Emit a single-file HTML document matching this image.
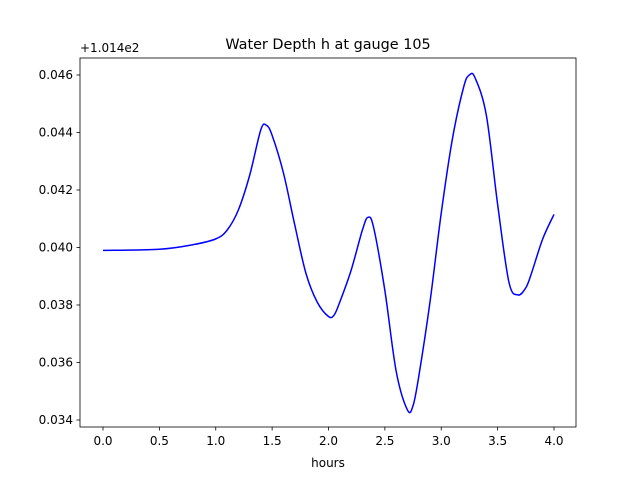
<!DOCTYPE html>
<html><head><meta charset="utf-8"><style>
body{margin:0;background:#fff;}
svg text{font-family:"DejaVu Sans","Liberation Sans",sans-serif;font-size:12px;fill:#000;}
</style></head><body>
<svg id="chart" width="640" height="480" xmlns="http://www.w3.org/2000/svg">
<rect x="0" y="0" width="640" height="480" fill="#fff"/>
<text x="328" y="49" text-anchor="middle" style="font-size:14.4px">Water Depth h at gauge 105</text>
<text x="80" y="52">+1.014e2</text>
<g id="ticks"></g>
<path id="line" fill="none" stroke="#0000ff" stroke-width="1.5"/>
<rect x="80" y="58" width="496" height="369" fill="none" stroke="#000" stroke-width="0.8"/>
<text x="328" y="467" text-anchor="middle">hours</text>
</svg>
<script>
const hours=[0,0.5,0.8,1.0,1.1,1.2,1.3,1.4,1.45,1.5,1.6,1.7,1.8,1.9,2.0,2.05,2.1,2.2,2.3,2.35,2.4,2.5,2.6,2.7,2.75,2.8,2.9,3.0,3.1,3.2,3.25,3.3,3.4,3.5,3.6,3.68,3.75,3.8,3.9,4.0];
const depth=[0.0399,0.03994,0.0401,0.0403,0.0406,0.0413,0.0425,0.0441,0.04425,0.0439,0.0426,0.0408,0.0391,0.0381,0.0376,0.03765,0.0381,0.0392,0.0406,0.04105,0.0407,0.0385,0.0357,0.03435,0.0345,0.0355,0.0381,0.0412,0.0438,0.0456,0.0460,0.0459,0.0446,0.0415,0.0388,0.03835,0.0386,0.0391,0.0403,0.04115];
const xTicks=[0,0.5,1.0,1.5,2.0,2.5,3.0,3.5,4.0];
const yTicks=[0.034,0.036,0.038,0.040,0.042,0.044,0.046];
const xs=v=>103+v*112.75;
const ys=v=>420-(v-0.034)/0.002*57.5;
const NS="http://www.w3.org/2000/svg";
const g=document.getElementById('ticks');
xTicks.forEach(t=>{
  const l=document.createElementNS(NS,'line');
  l.setAttribute('x1',xs(t));l.setAttribute('x2',xs(t));l.setAttribute('y1',427);l.setAttribute('y2',430.5);l.setAttribute('stroke','#000');l.setAttribute('stroke-width','0.8');
  
  
  g.appendChild(l);
  const tx=document.createElementNS(NS,'text');
  tx.setAttribute('x',xs(t));tx.setAttribute('y',445);tx.setAttribute('text-anchor','middle');tx.textContent=t.toFixed(1);
  
  
  g.appendChild(tx);
});
yTicks.forEach(t=>{
  const l=document.createElementNS(NS,'line');
  l.setAttribute('x1',76.5);l.setAttribute('x2',80);l.setAttribute('y1',ys(t));l.setAttribute('y2',ys(t));l.setAttribute('stroke','#000');l.setAttribute('stroke-width','0.8');
  
  
  g.appendChild(l);
  const tx=document.createElementNS(NS,'text');
  tx.setAttribute('x',73);tx.setAttribute('y',ys(t)+4);tx.setAttribute('text-anchor','end');tx.textContent=t.toFixed(3);
  
  
  g.appendChild(tx);
});
const P=hours.map((h,i)=>[xs(h),ys(depth[i])]);
let d='M'+P[0][0]+','+P[0][1];
for(let i=0;i<P.length-1;i++){
  const p0=P[Math.max(0,i-1)],p1=P[i],p2=P[i+1],p3=P[Math.min(P.length-1,i+2)];
  const c1x=p1[0]+(p2[0]-p0[0])/6,c1y=p1[1]+(p2[1]-p0[1])/6;
  const c2x=p2[0]-(p3[0]-p1[0])/6,c2y=p2[1]-(p3[1]-p1[1])/6;
  d+=' C'+c1x+','+c1y+' '+c2x+','+c2y+' '+p2[0]+','+p2[1];
}
document.getElementById('line').setAttribute('d',d);
</script>
</body></html>
